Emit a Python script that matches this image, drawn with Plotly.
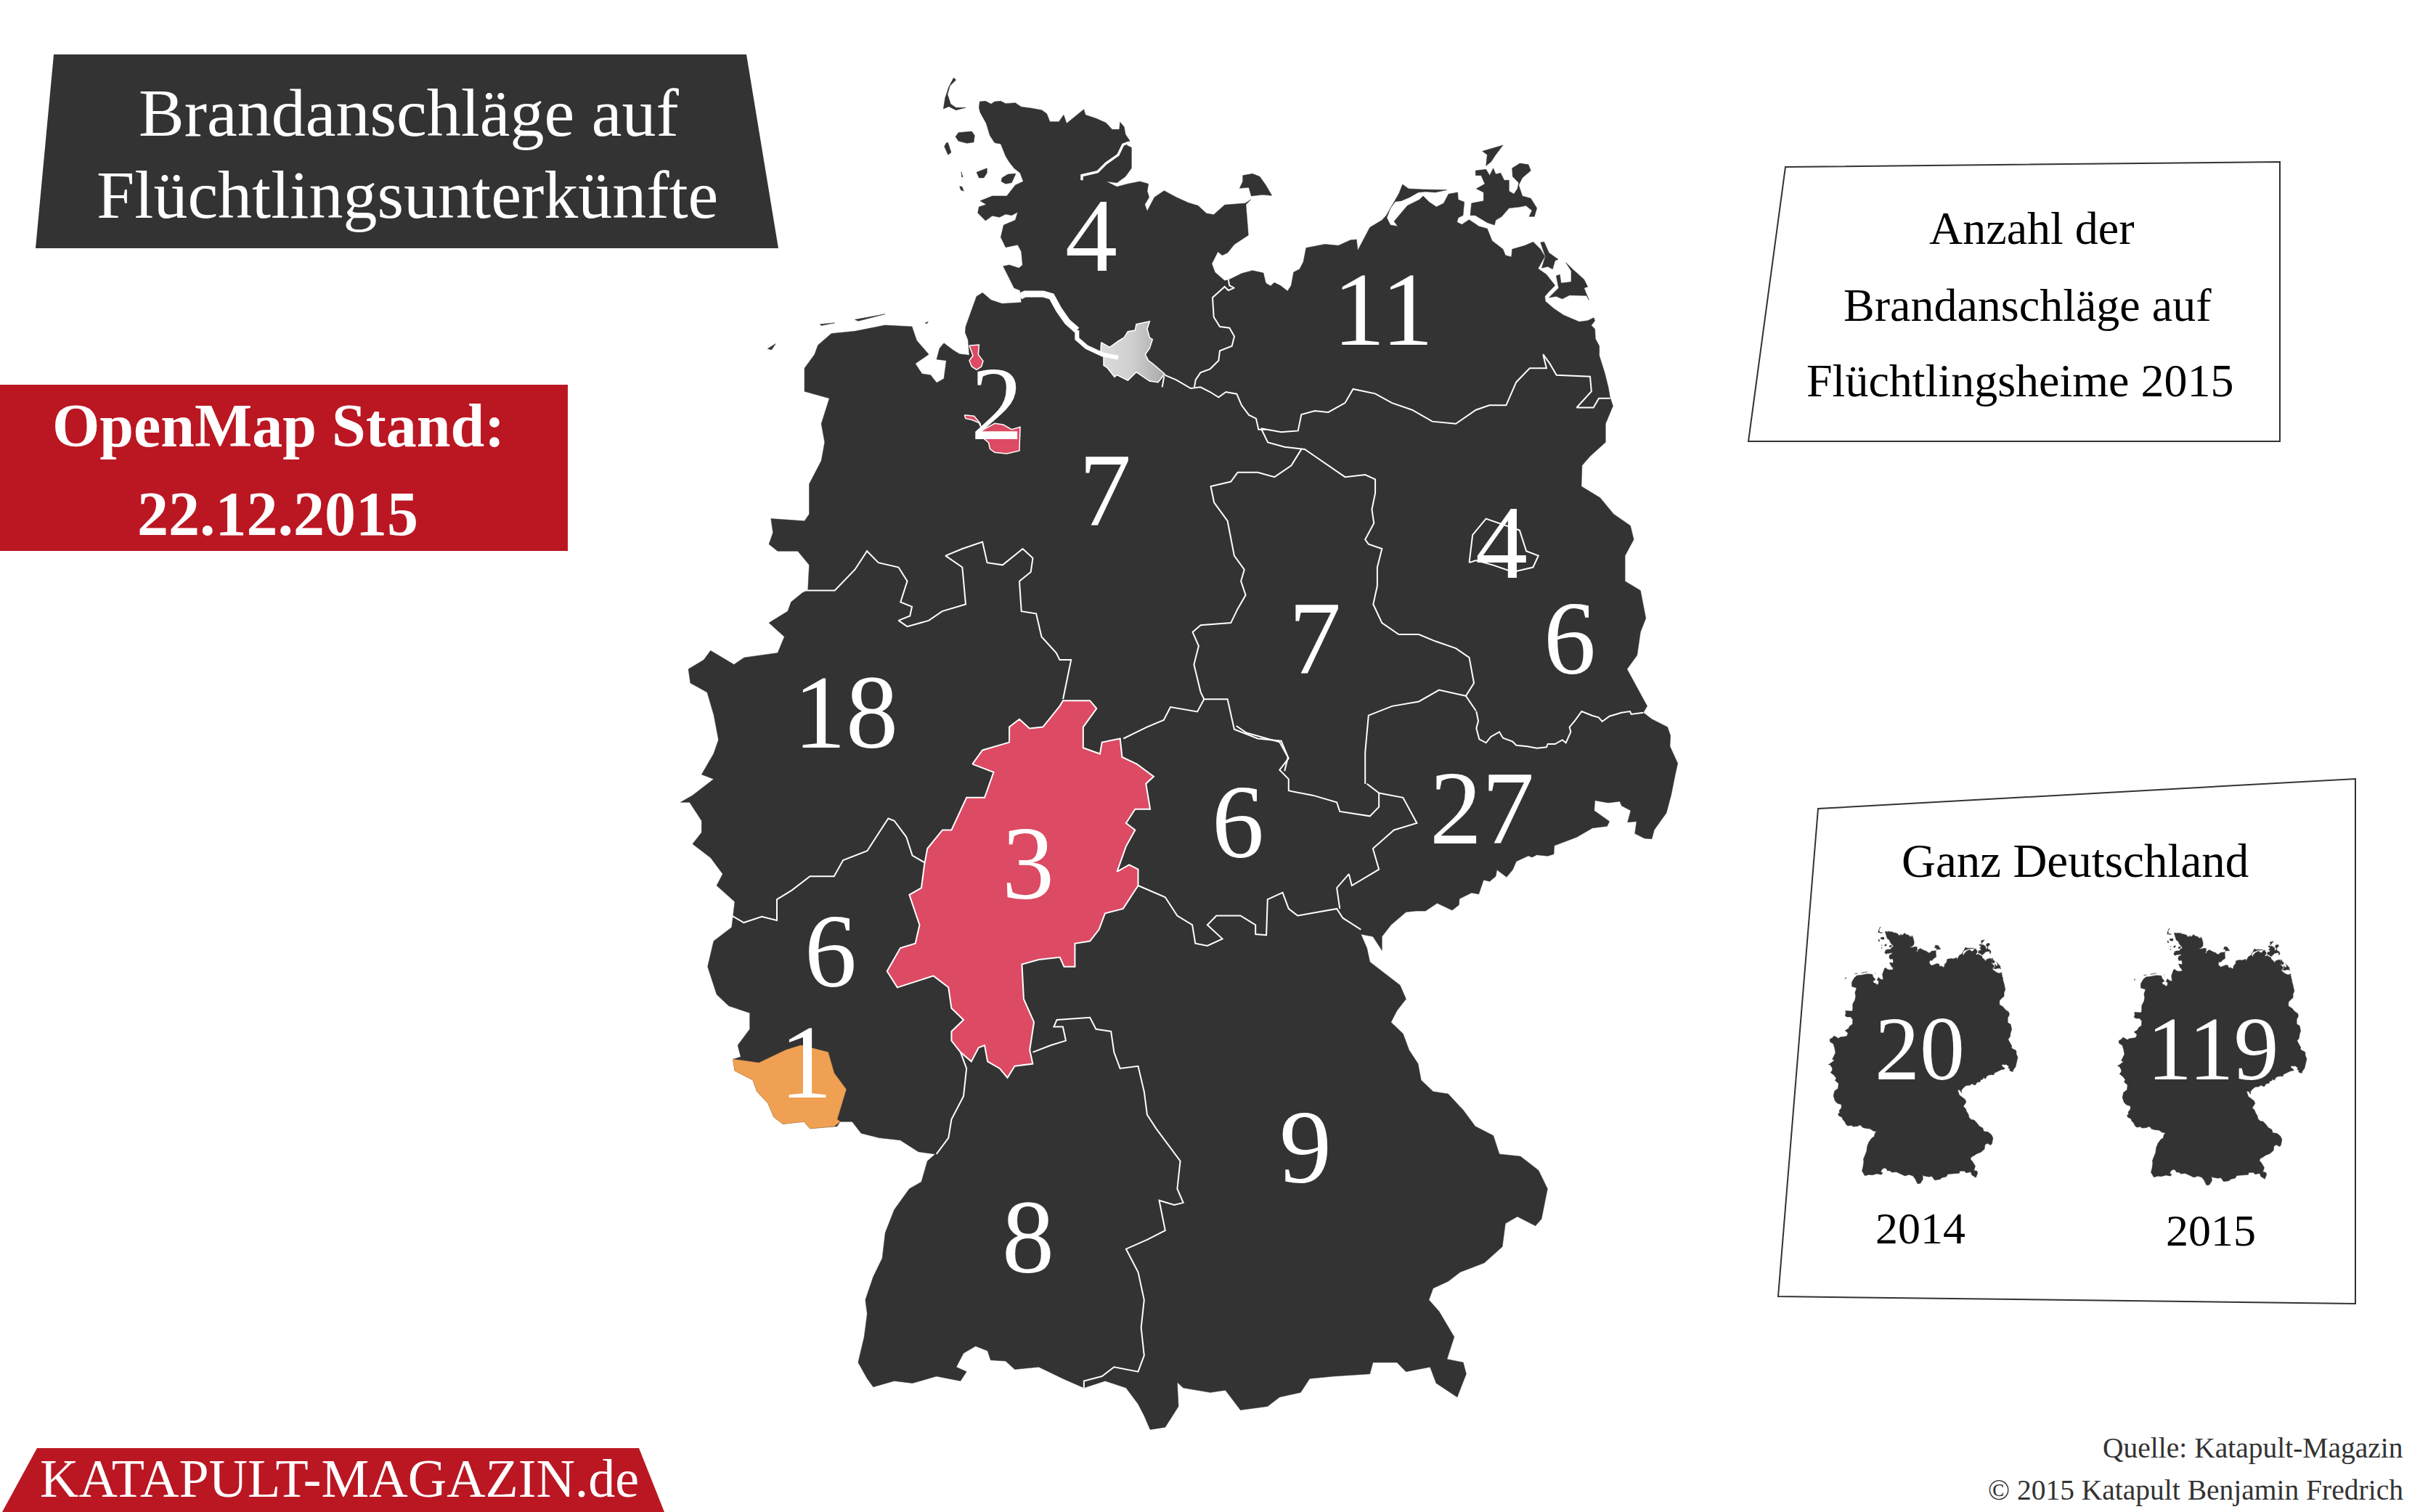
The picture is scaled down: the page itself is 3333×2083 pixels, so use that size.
import plotly.graph_objects as go

W, H = 3333, 2083
DARK = "#333333"
RED = "#BA1723"
CRIMSON = "#DC4A63"
ORANGE = "#EFA052"
SERIF = "Liberation Serif"

# attacks per state, 2015
states = ["Schleswig-Holstein", "Mecklenburg-Vorpommern", "Bremen", "Niedersachsen", "Sachsen-Anhalt",
          "Berlin", "Brandenburg", "Nordrhein-Westfalen", "Hessen", "Thüringen", "Sachsen",
          "Rheinland-Pfalz", "Saarland", "Baden-Württemberg", "Bayern"]
attacks = [4, 11, 2, 7, 7, 4, 6, 18, 3, 6, 27, 6, 1, 8, 9]
label_x = [1503, 1905, 1373, 1522, 1811, 2068, 2162, 1165, 1416, 1705, 2041, 1144, 1110, 1416, 1798]
label_y = [337, 439, 569, 688, 892, 760, 892, 994, 1202, 1145, 1126, 1323, 1476, 1717, 1593]

years = ["2014", "2015"]
year_totals = [20, 119]


def north(pts):
    return [(900 + x / 1.0814, 80 + y / 1.568) for x, y in pts]


def south(pts):
    return [(900 + x / 1.206, 1000 + y / 1.568) for x, y in pts]


def nw(pts):
    return [(1270 + x / 3, 100 + y / 3) for x, y in pts]


def ne(pts):
    return [(1860 + x / 3, 180 + y / 3) for x, y in pts]


def se(pts):
    return [(1950 + x / 3, 980 + y / 3) for x, y in pts]


coast_sh = [(238, 120), (262, 118), (285, 130), (300, 120), (325, 118), (345, 128), (385, 125), (410, 142),
            (450, 147), (495, 155), (515, 170), (528, 203), (565, 203), (585, 175), (597, 210), (640, 175),
            (668, 152), (675, 175), (720, 190), (760, 208), (785, 235), (815, 235), (818, 205), (835, 225),
            (840, 255), (858, 282), (845, 300), (865, 310), (865, 395), (840, 430), (805, 455), (760, 450),
            (805, 472), (850, 460), (900, 450), (935, 460), (930, 490), (938, 515), (920, 545), (930, 572),
            (960, 515), (1000, 488), (1050, 515), (1100, 538), (1140, 550), (1175, 582), (1205, 587),
            (1250, 547), (1300, 542), (1335, 540), (1358, 525), (1338, 545), (1348, 672), (1290, 710),
            (1262, 745), (1240, 755), (1222, 740), (1197, 790), (1210, 825), (1250, 860), (1270, 855),
            (1320, 830), (1365, 818), (1410, 828), (1420, 870), (1440, 882), (1455, 868), (1480, 880),
            (1510, 903), (1525, 880), (1535, 825), (1560, 812)]
coast_luebeck_gap = [(968, 440), (972, 410), (1000, 402), (1020, 405)]
coast_mv = [(0, 452), (25, 450), (30, 495), (52, 455), (80, 400), (130, 370), (148, 350), (180, 295), (200, 260),
            (215, 222), (240, 240), (300, 243), (398, 245), (350, 255), (310, 252), (280, 255), (245, 275),
            (210, 290), (185, 293), (165, 320), (150, 360), (165, 390), (195, 395), (180, 375), (210, 340),
            (235, 310), (285, 285), (300, 270), (325, 295), (355, 315), (385, 300), (405, 262), (443, 255),
            (445, 285), (470, 295), (465, 350), (445, 360), (440, 378), (460, 388), (490, 368), (530, 395),
            (565, 405), (585, 455), (630, 490), (640, 515), (665, 522), (668, 490), (720, 475), (755, 460),
            (785, 490), (803, 520), (790, 545), (775, 570), (810, 595), (835, 625), (845, 640), (820, 665),
            (803, 685), (805, 705), (840, 735), (880, 762), (945, 790), (980, 785), (1005, 773), (1010, 785),
            (995, 805), (1010, 820), (1012, 860), (1028, 890), (1028, 930), (1050, 1000), (1065, 1060),
            (1072, 1100), (1085, 1140)]
coast_oder = [(1428, 755), (1418, 790), (1418, 830), (1395, 860), (1383, 880), (1382, 925), (1410, 950),
              (1430, 985), (1455, 1010), (1460, 1040), (1447, 1075), (1447, 1130), (1470, 1150), (1478, 1210),
              (1470, 1240), (1465, 1290), (1450, 1320), (1465, 1360), (1480, 1400)]
coast_saxony = [(940, 5), (975, 32), (1040, 65), (1052, 100), (1050, 145), (1082, 215), (1072, 260), (1055, 345),
                (1035, 420), (985, 490), (975, 527), (945, 525), (905, 505), (912, 455), (875, 458), (888, 410),
                (850, 390), (843, 372), (795, 378), (740, 368), (737, 410), (800, 455), (790, 475), (730, 482),
                (665, 520), (600, 545), (572, 555), (570, 590), (545, 598), (500, 593), (480, 603), (465, 597),
                (415, 620), (400, 655), (375, 685), (335, 655), (330, 682), (305, 703), (280, 697), (260, 755),
                (230, 750), (180, 775), (178, 800), (150, 822), (88, 793), (40, 825), (0, 825)]
coast_south = [(1250, 402), (1225, 430), (1210, 455), (1210, 485), (1195, 455), (1175, 450), (1185, 480),
               (1190, 510), (1215, 535), (1240, 560), (1250, 590), (1235, 615), (1225, 640), (1245, 665),
               (1255, 700), (1270, 730), (1275, 765), (1295, 790), (1320, 795), (1345, 830), (1365, 865),
               (1395, 885), (1405, 925), (1440, 930), (1470, 960), (1485, 1000), (1475, 1065), (1465, 1080),
               (1435, 1060), (1415, 1075), (1410, 1125), (1380, 1160), (1340, 1180), (1320, 1200), (1295, 1215),
               (1288, 1240), (1305, 1265), (1330, 1320), (1318, 1368), (1345, 1375), (1350, 1400), (1335, 1450),
               (1300, 1420), (1290, 1385), (1250, 1395), (1235, 1375), (1195, 1375), (1190, 1400), (1130, 1405),
               (1090, 1410), (1075, 1440), (1040, 1450), (1020, 1470), (975, 1478), (950, 1435), (925, 1440),
               (880, 1430), (870, 1418), (872, 1470), (850, 1515), (825, 1520), (815, 1490), (805, 1465),
               (785, 1430), (750, 1415), (715, 1430), (680, 1410), (640, 1385), (600, 1390), (585, 1372),
               (560, 1370), (555, 1350), (535, 1340), (515, 1355), (503, 1385), (520, 1395), (510, 1415),
               (470, 1405), (430, 1420), (400, 1415), (365, 1428), (355, 1410), (340, 1375), (350, 1320),
               (355, 1270), (352, 1240), (365, 1190), (380, 1150), (385, 1095), (400, 1045), (425, 1000),
               (445, 985), (455, 940), (468, 925), (440, 920), (410, 895), (375, 890), (345, 880), (330, 855),
               (310, 855), (305, 865), (260, 870), (250, 855), (215, 860), (200, 845), (190, 815), (172, 790),
               (165, 765), (135, 745), (132, 720), (145, 715), (140, 690), (160, 655), (160, 620), (125, 605),
               (105, 580), (90, 520), (100, 465), (130, 435), (135, 380), (105, 345), (115, 320), (95, 285),
               (65, 255), (80, 230), (80, 205), (60, 165), (45, 165), (65, 150), (100, 115), (80, 105),
               (100, 60), (108, 30)]
coast_west = [(90, 1420), (80, 1370), (55, 1350), (52, 1320), (75, 1300), (85, 1280), (120, 1310), (135, 1295),
              (160, 1290), (185, 1285), (195, 1250), (172, 1220), (200, 1195), (205, 1175), (222, 1155),
              (230, 1150), (232, 1095), (215, 1065), (185, 1065), (172, 1050), (178, 1025), (175, 995),
              (225, 1000), (232, 985), (232, 920), (250, 870), (255, 830), (250, 790), (262, 735), (225, 720),
              (225, 670), (240, 640), (245, 620), (265, 595), (300, 590), (345, 577), (385, 580), (392, 610),
              (410, 640), (390, 660), (400, 682)]
coast_jade_to_sylt = [(35, 1250), (60, 1282), (90, 1265), (100, 1190), (60, 1185), (72, 1140), (90, 1118),
                      (130, 1148), (155, 1163), (195, 1168), (190, 1105), (178, 1075), (180, 1050), (205, 980),
                      (225, 925), (250, 910), (285, 940), (330, 955), (410, 950), (405, 900), (380, 890),
                      (360, 850), (335, 800), (360, 795), (400, 808), (415, 795), (410, 740), (395, 712),
                      (345, 722), (325, 680), (337, 630), (385, 610), (395, 577), (370, 590), (345, 585),
                      (320, 598), (290, 592), (262, 612), (230, 580), (235, 555), (265, 545), (240, 530),
                      (290, 510), (350, 510), (385, 465), (418, 450), (405, 415), (380, 395), (360, 370),
                      (345, 345), (325, 295), (300, 290), (280, 260), (265, 210), (240, 165), (235, 145)]

islands_nw = [
    [(130, 22), (140, 30), (115, 55), (105, 90), (118, 130), (140, 145), (180, 145), (140, 155), (110, 140),
     (88, 150), (95, 105), (110, 60)],
    [(150, 248), (205, 243), (217, 260), (213, 288), (185, 292), (150, 283), (138, 265)],
    [(100, 290), (107, 290), (120, 330), (107, 340), (92, 305)],
    [(225, 412), (268, 395), (268, 415), (255, 435), (235, 435)],
    [(330, 435), (355, 420), (387, 418), (370, 455), (345, 460), (327, 450)],
    [(155, 470), (165, 472), (172, 490), (160, 485)],
    [(162, 410), (168, 432), (164, 432)],
    [(1325, 425), (1365, 418), (1395, 430), (1420, 465), (1445, 508), (1405, 505), (1360, 510), (1350, 475),
     (1312, 478), (1325, 450)],
    [(12, 1035), (25, 1030), (20, 1037)],
]
islands_ne = [
    [(545, 85), (630, 60), (600, 100), (580, 130), (560, 145), (565, 100)],
    [(517, 165), (560, 160), (575, 185), (590, 155), (600, 180), (620, 175), (635, 205), (655, 205), (655, 250),
     (675, 262), (690, 240), (695, 215), (670, 190), (668, 155), (700, 135), (735, 140), (745, 165), (710, 195),
     (695, 225), (710, 270), (745, 280), (770, 320), (760, 355), (738, 355), (750, 330), (725, 310), (700, 315),
     (655, 320), (625, 355), (600, 370), (595, 390), (565, 380), (515, 350), (495, 350), (500, 300), (550, 290),
     (550, 255), (520, 240), (555, 220), (540, 185), (517, 185)],
    [(785, 462), (800, 460), (820, 505), (858, 532), (845, 538), (835, 572), (815, 562), (790, 568), (805, 520)],
    [(890, 545), (915, 570), (965, 615), (980, 645), (965, 650), (985, 700), (975, 682), (905, 680), (875, 695),
     (850, 685), (820, 690), (860, 650), (850, 600), (865, 595), (870, 630), (912, 625), (912, 580)],
]
islands_frisian = [
    [(170, 628), (182, 617), (176, 630)],
    [(248, 575), (270, 572), (250, 578)],
    [(300, 565), (345, 553), (305, 568)],
]

elbe_mouth = [(405, 925), (425, 915), (500, 915), (535, 925), (565, 980), (600, 1030), (640, 1065)]
elbe_upper = [(640, 1065), (640, 1100), (680, 1135), (745, 1165), (810, 1178)]
schlei = [(855, 288), (830, 298), (810, 340), (760, 375), (725, 410), (660, 425), (660, 445)]

hamburg = [(740, 1115), (775, 1135), (810, 1110), (835, 1095), (850, 1070), (880, 1065), (885, 1040), (940, 1028),
           (930, 1060), (940, 1095), (952, 1103), (940, 1140), (922, 1165), (935, 1190), (955, 1205), (1002, 1245),
           (975, 1280), (940, 1275), (885, 1238), (850, 1272), (805, 1250), (795, 1258), (765, 1220), (750, 1210),
           (750, 1165), (738, 1150)]
bremerhaven = [(195, 1128), (235, 1125), (232, 1165), (252, 1192), (245, 1215), (225, 1228), (205, 1215),
               (195, 1190), (210, 1170)]
bremen = [(175, 1415), (215, 1420), (240, 1450), (245, 1480), (300, 1450), (335, 1455), (370, 1475), (405, 1465),
          (402, 1563), (350, 1575), (300, 1570), (280, 1555), (275, 1530), (240, 1500), (245, 1470), (235, 1448),
          (205, 1435), (180, 1430)]
berlin = [(1215, 1090), (1220, 1030), (1240, 995), (1290, 1020), (1300, 1065), (1318, 1075), (1310, 1100),
          (1280, 1110), (1250, 1095), (1225, 1085), (1215, 1090)]
hesse_top = [(475, 1525), (490, 1495), (530, 1478), (530, 1445), (545, 1428), (560, 1448), (580, 1445),
             (605, 1400), (610, 1388), (650, 1388), (660, 1405), (640, 1445), (640, 1490), (665, 1503),
             (668, 1478), (695, 1470), (698, 1510), (720, 1525), (745, 1552)]
hesse_rest = [(818, 125), (825, 180), (800, 180), (785, 210), (800, 225), (785, 260), (770, 315), (790, 300),
              (805, 310), (805, 345), (780, 395), (750, 405), (740, 440), (725, 465), (700, 470), (700, 520),
              (682, 520), (675, 500), (640, 505), (612, 515), (615, 590), (632, 640), (625, 700), (630, 730),
              (600, 735), (588, 760), (575, 740), (555, 725), (550, 690), (540, 695), (528, 725), (510, 705),
              (495, 680), (495, 660), (515, 635), (495, 610), (490, 565), (465, 540), (430, 555), (405, 565),
              (388, 530), (410, 480), (435, 470), (442, 430), (425, 365), (445, 350), (450, 300), (455, 265),
              (480, 225), (495, 225), (520, 155), (550, 155), (565, 100), (535, 85)]
saarland = [(132, 720), (175, 728), (220, 700), (245, 690), (290, 705), (300, 750), (320, 785), (305, 850),
            (310, 855), (300, 865), (260, 870), (250, 855), (215, 860), (200, 845), (190, 815), (172, 790),
            (165, 765), (135, 745), (132, 720)]

borders_nw = [
    [(1265, 855), (1270, 880), (1290, 890), (1265, 900), (1250, 885), (1200, 930), (1205, 1010), (1230, 1050),
     (1270, 1055), (1290, 1090), (1280, 1130), (1230, 1150), (1225, 1190), (1190, 1225), (1150, 1240), (1130, 1270),
     (1125, 1300)],
    [(1002, 1250), (1050, 1270), (1110, 1305), (1150, 1300), (1190, 1320), (1225, 1342), (1255, 1320), (1300, 1328),
     (1320, 1375), (1350, 1415), (1380, 1430), (1390, 1475), (1420, 1475)],
    [(1000, 1255), (992, 1300)],
]
borders_north = [
    [(905, 800), (915, 830), (940, 840), (970, 845), (985, 860), (1005, 880), (1030, 905), (1060, 900), (1075, 910),
     (1075, 940), (1070, 975), (1073, 1005), (1060, 1040), (1065, 1050), (1085, 1060), (1078, 1100), (1078, 1140),
     (1072, 1180), (1085, 1220), (1110, 1245), (1140, 1245), (1165, 1260), (1195, 1275), (1215, 1295),
     (1222, 1350), (1210, 1378), (1225, 1410)],
    [(905, 800), (935, 808), (960, 805), (965, 770), (985, 762), (1005, 765), (1030, 745), (1042, 715),
     (1075, 725), (1100, 745), (1130, 760), (1160, 785), (1195, 790), (1225, 760), (1245, 750), (1270, 750),
     (1285, 700), (1305, 670), (1330, 670), (1325, 640), (1335, 660), (1345, 685), (1395, 688), (1397, 720),
     (1375, 755), (1400, 755), (1408, 735), (1425, 735)],
    [(965, 845), (950, 880), (925, 905), (900, 895), (870, 895), (860, 915), (830, 925), (835, 960), (855, 1000),
     (860, 1035), (865, 1075), (880, 1105), (875, 1130), (882, 1160), (870, 1190), (860, 1220), (815, 1225),
     (803, 1240), (812, 1270), (805, 1310), (815, 1370), (820, 1385), (855, 1385), (865, 1450), (900, 1470),
     (935, 1475), (945, 1510), (940, 1540)],
    [(1210, 1378), (1170, 1365), (1140, 1390), (1100, 1400), (1065, 1420), (1060, 1500), (1060, 1568)],
    [(820, 1385), (810, 1412), (770, 1402), (760, 1430), (735, 1445), (700, 1470)],
    [(228, 1150), (270, 1150), (300, 1105), (318, 1065), (335, 1090), (365, 1100), (378, 1130), (368, 1175),
     (385, 1185), (382, 1205), (365, 1215), (378, 1228), (410, 1215), (430, 1195), (465, 1180), (460, 1100),
     (435, 1075), (460, 1060), (490, 1045), (497, 1090), (520, 1095), (550, 1060), (565, 1080), (562, 1110),
     (545, 1130), (548, 1195), (570, 1200), (578, 1250), (600, 1285), (605, 1300), (622, 1300), (610, 1385)],
]
borders_se = [
    [(250, 0), (258, 40), (250, 70), (262, 115), (290, 130), (310, 105), (345, 85), (360, 110), (400, 125),
     (415, 140), (460, 145), (500, 152), (540, 148), (545, 135), (575, 135), (605, 118), (620, 130), (640, 85),
     (635, 65), (660, 35), (685, 0), (730, 18), (755, 25), (770, 42), (800, 20), (850, 5), (885, 0), (890, 12),
     (940, 5)],
]
borders_south = [
    [(968, 0), (985, 15), (1040, 35), (1055, 70), (1040, 95), (1055, 115), (1055, 140), (1095, 150), (1135, 165),
     (1140, 185), (1190, 195), (1205, 175), (1205, 145), (1185, 125)],
    [(130, 410), (150, 425), (180, 412), (205, 420), (205, 375), (230, 355), (260, 325), (300, 325), (315, 290),
     (355, 270), (370, 240), (390, 200), (400, 205), (420, 240), (430, 280), (450, 295)],
    [(510, 705), (520, 740), (515, 800), (495, 850), (490, 890), (470, 925)],
    [(630, 705), (660, 690), (685, 680), (680, 650), (665, 650), (670, 635), (725, 630), (735, 655), (760, 660),
     (765, 705), (775, 740), (805, 735), (815, 790), (820, 840), (835, 870), (855, 905), (875, 940), (870, 1000),
     (880, 1030), (865, 1035), (840, 1025), (850, 1090), (820, 1110), (785, 1130), (805, 1180), (815, 1240),
     (810, 1300), (815, 1360), (805, 1395), (765, 1385), (745, 1405), (715, 1415), (715, 1430)],
    [(805, 345), (850, 370), (870, 410), (895, 430), (900, 470), (920, 475), (945, 460), (920, 430), (935, 410),
     (975, 410), (1000, 430), (1000, 450), (1018, 452), (1020, 375), (1045, 360), (1055, 395), (1070, 410),
     (1115, 400), (1135, 395), (1145, 415), (1175, 440)],
    [(1205, 145), (1245, 155), (1268, 210), (1230, 225), (1195, 265), (1205, 310), (1160, 345), (1155, 320),
     (1135, 350), (1140, 395)],
]


def xs(pts):
    return [p[0] for p in pts]


def ys(pts):
    return [p[1] for p in pts]


def joined(paths):
    # one trace, several pieces, None breaks the line and the fill
    x, y = [], []
    for p in paths:
        x += xs(p) + [None]
        y += ys(p) + [None]
    return x, y


def closed(pts):
    return pts + [pts[0]]


mainland = (nw(coast_sh) + north(coast_luebeck_gap) + ne(coast_mv) + north(coast_oder) + se(coast_saxony)
            + south(coast_south) + north(coast_west) + nw(coast_jade_to_sylt))
land = ([closed(mainland)] + [closed(nw(i)) for i in islands_nw] + [closed(ne(i)) for i in islands_ne]
        + [closed(north(i)) for i in islands_frisian])
border_lines = ([nw(b) for b in borders_nw] + [north(b) for b in borders_north] + [se(b) for b in borders_se]
                + [south(b) for b in borders_south])


def poly(pts, color, name, line_color="white", line_width=2):
    return go.Scatter(x=xs(pts), y=ys(pts), mode="lines", fill="toself", fillcolor=color, name=name,
                      line=dict(color=line_color, width=line_width), hoverinfo="name")


def white_line(pts, width):
    return go.Scatter(x=xs(pts), y=ys(pts), mode="lines", line=dict(color="white", width=width), hoverinfo="skip")


fig = go.Figure()

# big map
land_x, land_y = joined(land)
fig.add_trace(go.Scatter(x=land_x, y=land_y, mode="lines", fill="toself", fillcolor=DARK,
                         line=dict(color=DARK, width=0.5), name="Deutschland", hoverinfo="skip"))
fig.add_trace(white_line(nw(schlei), 3.5))
border_x, border_y = joined(border_lines)
fig.add_trace(go.Scatter(x=border_x, y=border_y, mode="lines", line=dict(color="white", width=2), hoverinfo="skip"))

hesse = closed(north(hesse_top) + south(hesse_rest))
fig.add_trace(poly(hesse, CRIMSON, "Hessen"))
fig.add_trace(poly(south(saarland), ORANGE, "Saarland", line_color=ORANGE, line_width=0.5))
bremen_x, bremen_y = joined([closed(nw(bremerhaven)), closed(nw(bremen))])
fig.add_trace(go.Scatter(x=bremen_x, y=bremen_y, mode="lines", fill="toself", fillcolor=CRIMSON,
                         line=dict(color="white", width=1.5), name="Bremen"))
fig.add_trace(poly(north(berlin), DARK, "Berlin"))
hh = closed(nw(hamburg))
fig.add_trace(go.Scatter(x=xs(hh), y=ys(hh), mode="lines", fill="toself", name="Hamburg",
                         line=dict(color="white", width=1.5),
                         fillgradient=dict(type="horizontal",
                                           colorscale=[[0, "#dcdcdc"], [0.5, "#cfcfcf"], [1, "#a9a9a9"]])))
fig.add_trace(white_line(nw(elbe_mouth), 9))
fig.add_trace(white_line(nw(elbe_upper), 6))

# the two small maps reuse the same outline
mini_scale = 0.19
mini_left = [2518, 2916]
mini_top = [1277, 1279]
for left, top in zip(mini_left, mini_top):
    mx = [None if v is None else left + (v - 937) * mini_scale for v in land_x]
    my = [None if v is None else top + (v - 107) * mini_scale for v in land_y]
    fig.add_trace(go.Scatter(x=mx, y=my, mode="lines", fill="toself", fillcolor=DARK,
                             line=dict(color=DARK, width=0.5), hoverinfo="skip"))

# state counts
fig.add_trace(go.Scatter(x=label_x, y=label_y, mode="text", text=[str(v) for v in attacks],
                         textposition="middle center", customdata=states,
                         textfont=dict(family=SERIF, size=144, color="white"), hoverinfo="skip"))


def box(path, fill, line=None):
    fig.add_shape(type="path", path=path, xref="x", yref="y", layer="below", fillcolor=fill,
                  line=dict(color=line or fill, width=2 if line else 0))


box("M74,75 L1028,75 L1072,342 L49,342 Z", DARK)
box("M0,530 L782,530 L782,759 L0,759 Z", RED)
box("M51,1995 L880,1995 L915,2083 L3,2083 Z", RED)
box("M2459,230 L3140,223 L3140,608 L2408,608 Z", "white", DARK)
box("M2504,1114 L3244,1073 L3244,1796 L2449,1786 Z", "white", DARK)


def label(text, x, y, size, color="black", bold=False, anchor="center"):
    fig.add_annotation(text=f"<b>{text}</b>" if bold else text, x=x, y=y, xref="x", yref="y", showarrow=False,
                       xanchor=anchor, yanchor="middle", font=dict(family=SERIF, size=size, color=color))


label("Brandanschläge auf", 563, 155, 94, "white")
label("Flüchtlingsunterkünfte", 561, 268, 94, "white")
label("OpenMap Stand:", 383, 586, 84, "white", bold=True)
label("22.12.2015", 382, 708, 86, "white", bold=True)
label("KATAPULT-MAGAZIN.de", 467, 2037, 74, "white")
label("Anzahl der", 2798, 314, 64)
label("Brandanschläge auf", 2792, 420, 64)
label("Flüchtlingsheime 2015", 2782, 524, 64)
label("Ganz Deutschland", 2858, 1186, 65)
label(years[0], 2645, 1692, 62)
label(years[1], 3045, 1695, 62)
label(str(year_totals[0]), 2644, 1445, 124, "white")
label(str(year_totals[1]), 3047, 1445, 124, "white")
label("Quelle: Katapult-Magazin", 3312, 1995, 39.5, DARK, anchor="right")
label("© 2015 Katapult Benjamin Fredrich", 3312, 2053, 39.5, DARK, anchor="right")

fig.update_layout(width=W, height=H, margin=dict(l=0, r=0, t=0, b=0), paper_bgcolor="white", plot_bgcolor="white",
                  showlegend=False,
                  xaxis=dict(range=[0, W], visible=False, fixedrange=True),
                  yaxis=dict(range=[H, 0], visible=False, fixedrange=True))

# page body has a default margin, the red boxes have to touch the edge
fig.write_html("out.html", post_script="document.body.style.margin='0';", config=dict(displayModeBar=False))
